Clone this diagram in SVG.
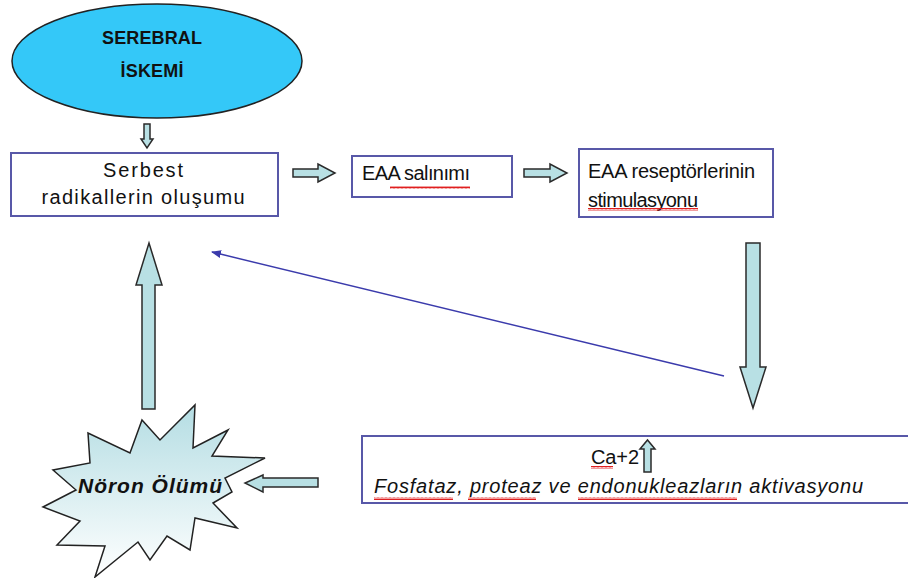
<svg xmlns="http://www.w3.org/2000/svg" width="908" height="578" viewBox="0 0 908 578">
<style>
.box{fill:#fff;stroke:#5858a8;stroke-width:2}
.arr{fill:#b8e0e4;stroke:#2a2a2a;stroke-width:1.5;stroke-linejoin:miter}
.t{font-family:"Liberation Sans",Arial,sans-serif;font-size:20px;fill:#111}
.tb{font-family:"Liberation Sans",Arial,sans-serif;font-weight:bold;fill:#111}
.wave{fill:none;stroke:#e02020;stroke-width:1}
</style>
<defs>
<linearGradient id="starg" x1="0" y1="0" x2="0" y2="1">
<stop offset="0" stop-color="#b4dde3"/>
<stop offset="1" stop-color="#ffffff"/>
</linearGradient>
<pattern id="wv" width="4" height="3" patternUnits="userSpaceOnUse">
<polyline points="0,2.5 1,0.5 2,2.5 3,0.5 4,2.5" class="wave"/>
</pattern>
<marker id="ah" markerWidth="10" markerHeight="10" refX="9" refY="5" orient="auto" markerUnits="userSpaceOnUse">
<path d="M0,1 L10,5 L0,9 Z" fill="#3b3bac"/>
</marker>
</defs>

<g id="serebral-iskemi">
<ellipse cx="157" cy="61" rx="145" ry="57" fill="#34c8f8" stroke="#222" stroke-width="1.5"/>
<text class="tb" x="152" y="44" font-size="18" text-anchor="middle" textLength="100" lengthAdjust="spacing">SEREBRAL</text>
<text class="tb" x="152" y="77" font-size="18" text-anchor="middle" textLength="63" lengthAdjust="spacing">İSKEMİ</text>
</g>

<g id="serbest-radikaller">
<rect class="box" x="11" y="153" width="267" height="63"/>
<text class="t" x="143" y="177" text-anchor="middle" textLength="80" lengthAdjust="spacing">Serbest</text>
<text class="t" x="143" y="204" text-anchor="middle" textLength="203" lengthAdjust="spacing">radikallerin oluşumu</text>
</g>

<g id="eaa-salinimi">
<rect class="box" x="352" y="156" width="160" height="41"/>
<text class="t" x="362" y="180" textLength="108" lengthAdjust="spacing">EAA salınımı</text>
<rect x="390" y="186" width="80" height="3" fill="url(#wv)"/>
</g>

<g id="eaa-reseptorleri">
<rect class="box" x="579" y="149" width="194" height="68"/>
<text class="t" x="588" y="178" textLength="167" lengthAdjust="spacing">EAA reseptörlerinin</text>
<text class="t" x="588" y="207" textLength="110" lengthAdjust="spacing">stimulasyonu</text>
<rect x="588" y="208" width="110" height="3" fill="url(#wv)"/>
</g>

<g id="aktivasyon">
<rect class="box" x="362" y="436" width="550" height="67"/>
<text class="t" x="591" y="464" textLength="48" lengthAdjust="spacing">Ca+2</text>
<rect x="591" y="466" width="22" height="3" fill="url(#wv)"/>
<path class="arr" d="M644,472 L644,449 L640,449 L647.5,440 L655,449 L651,449 L651,472 Z"/>
<text class="t" x="374" y="493" font-style="italic" textLength="489" lengthAdjust="spacing">Fosfataz, proteaz ve endonukleazların aktivasyonu</text>
<rect x="374" y="497" width="79" height="3" fill="url(#wv)"/>
<rect x="468" y="497" width="68" height="3" fill="url(#wv)"/>
<rect x="578" y="497" width="159" height="3" fill="url(#wv)"/>
</g>

<g id="noron-olumu">
<polygon points="142,420 160,440 195,405 193,448 228,430 212,456 265,458 225,478 232,492 213,503 237,528 195,518 190,550 167,536 150,560 138,542 95,577 105,546 57,545 80,521 43,507 76,490 53,470 90,463 88,433 130,453" fill="url(#starg)" stroke="#222" stroke-width="1.5" stroke-linejoin="miter"/>
<text class="tb" x="78" y="493" font-size="21" font-style="italic" textLength="144" lengthAdjust="spacing">Nöron Ölümü</text>
</g>

<g id="connectors">
<path class="arr" d="M144,124 L150,124 L150,139 L153,139 L147,148 L141,139 L144,139 Z"/>
<path class="arr" d="M293,169 L318,169 L318,164 L335,173 L318,182 L318,177 L293,177 Z"/>
<path class="arr" d="M524,169 L550,169 L550,164 L567,173 L550,182 L550,177 L524,177 Z"/>
<path class="arr" d="M746,243 L760,243 L760,367 L766,367 L753,408 L740,367 L746,367 Z"/>
<path class="arr" d="M142,409 L142,285 L136,285 L149,243 L162,285 L155,285 L155,409 Z"/>
<path class="arr" d="M318,478 L263,478 L263,475 L245,483 L263,492 L263,487 L318,487 Z"/>
<line x1="724" y1="376" x2="212" y2="252" stroke="#3b3bac" stroke-width="1.5" marker-end="url(#ah)"/>
</g>
</svg>
